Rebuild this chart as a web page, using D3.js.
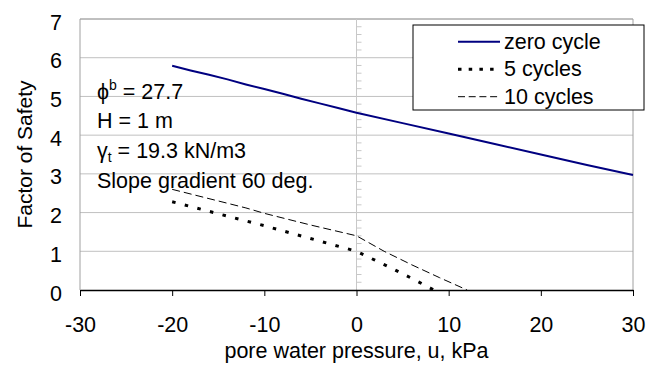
<!DOCTYPE html>
<html>
<head>
<meta charset="utf-8">
<script src="https://cdn.jsdelivr.net/npm/d3@7"></script>
<style>
  body { margin: 0; background: #fff; }
  svg text { font-family: "Liberation Sans", Arial, sans-serif; }
</style>
</head>
<body>
<div id="chart-area"></div>
<script>
// data
var zeroU  = [-20, -18, -16, -14, -12, -10, -8, -6, -4, -2, 0, 5, 10, 15, 20, 25, 30];
var zeroFS = [5.79, 5.67, 5.56, 5.44, 5.31, 5.19, 5.07, 4.94, 4.82, 4.70, 4.58, 4.31, 4.04, 3.77, 3.50, 3.23, 2.97];
var fiveU  = [-20, -15, -10, -5, 0, 2, 4, 6, 8, 8.4];
var fiveFS = [2.28, 1.97, 1.66, 1.33, 1.00, 0.77, 0.54, 0.30, 0.05, 0];
var tenU   = [-20, -15, -12, -10, -5, 0, 3, 6, 9, 12];
var tenFS  = [2.60, 2.30, 2.12, 1.98, 1.68, 1.40, 1.00, 0.65, 0.32, 0];

var xTicks = [-30, -20, -10, 0, 10, 20, 30];
var yTicks = [0, 1, 2, 3, 4, 5, 6, 7];
var legendNames = ["zero cycle", "5 cycles", "10 cycles"];

var margin = { left: 80, right: 25, top: 19, bottom: 75 };
var width = 658 - margin.left - margin.right;
var height = 365 - margin.top - margin.bottom;
var fs = "21.5px";

var svg = d3.select("#chart-area")
    .append("svg")
    .attr("width", 658)
    .attr("height", 365);

var g = svg.append("g")
    .attr("transform", "translate(" + margin.left + "," + margin.top + ")");

var x = d3.scaleLinear().domain([-30, 30]).range([0, width]);
var y = d3.scaleLinear().domain([0, 7]).range([height, 0]);

// gridlines
g.selectAll(".hgrid")
    .data(yTicks.slice(1))
    .enter().append("line")
    .attr("x1", 0).attr("x2", width)
    .attr("y1", function (d) { return y(d) })
    .attr("y2", function (d) { return y(d) })
    .attr("stroke", "#c0c0c0");

// frame (left, top, right)
g.append("path")
    .attr("d", "M0," + height + "V0H" + width + "V" + height)
    .attr("fill", "none")
    .attr("stroke", "#a0a0a0");

// vertical line at u = 0 with minor ticks
g.append("line")
    .attr("x1", x(0)).attr("x2", x(0))
    .attr("y1", 0).attr("y2", height)
    .attr("stroke", "#c8c8c8");

var minor = d3.range(1, 35).map(function (i) { return i * 0.2 })
    .filter(function (d) { return Math.abs(d - Math.round(d)) > 0.01 });
g.selectAll(".minor")
    .data(minor)
    .enter().append("line")
    .attr("x1", x(0)).attr("x2", x(0) + 5)
    .attr("y1", function (d) { return y(d) })
    .attr("y2", function (d) { return y(d) })
    .attr("stroke", "#c8c8c8");

// x axis
var xAxisCall = d3.axisBottom(x)
    .tickValues(xTicks)
    .tickFormat(function (d) { return String(d) })
    .tickSizeInner(6)
    .tickSizeOuter(0)
    .tickPadding(21);
var xAxis = g.append("g")
    .attr("transform", "translate(0," + height + ")")
    .call(xAxisCall);
xAxis.select(".domain").attr("stroke", "#000").attr("stroke-width", 1.5);
xAxis.selectAll("line").attr("stroke", "#000");
xAxis.selectAll("text")
    .attr("font-size", fs)
    .attr("fill", "#000");

// y axis labels
var yAxisCall = d3.axisLeft(y)
    .tickValues(yTicks)
    .tickFormat(function (d) { return String(d) })
    .tickSize(0)
    .tickPadding(18);
var yAxis = g.append("g").call(yAxisCall);
yAxis.select(".domain").remove();
yAxis.selectAll("text")
    .attr("font-size", fs)
    .attr("dy", "0.47em")
    .attr("fill", "#000");
svg.selectAll("g").attr("font-family", null);

// axis titles
svg.append("text")
    .attr("x", margin.left + x(0))
    .attr("y", 358)
    .attr("text-anchor", "middle")
    .attr("font-size", fs)
    .text("pore water pressure, u, kPa");

svg.append("text")
    .attr("transform", "translate(32," + (margin.top + height / 2) + ") rotate(-90)")
    .attr("text-anchor", "middle")
    .attr("font-size", "21px")
    .text("Factor of Safety");

// series lines
var line = d3.line()
    .x(function (d) { return x(d[0]) })
    .y(function (d) { return y(d[1]) });

var series = [
    { name: legendNames[0], pts: d3.zip(zeroU, zeroFS), color: "#000080", w: 2, dash: null, ldash: null },
    { name: legendNames[1], pts: d3.zip(fiveU, fiveFS), color: "#000", w: 3, dash: "3.5,9.5", ldash: "3.5,7.2" },
    { name: legendNames[2], pts: d3.zip(tenU, tenFS), color: "#000", w: 1, dash: "8,4", ldash: "7,3.7" }
];

series.forEach(function (s) {
    g.append("path")
        .datum(s.pts)
        .attr("d", line)
        .attr("fill", "none")
        .attr("stroke", s.color)
        .attr("stroke-width", s.w)
        .attr("stroke-dasharray", s.dash);
});

// annotation
var note = svg.append("g").attr("font-size", fs);
var t1 = note.append("text").attr("x", 97).attr("y", 99);
t1.append("tspan").text("\u03d5");
t1.append("tspan").attr("dy", -9).attr("font-size", "14px").text("b");
t1.append("tspan").attr("dy", 9).text(" = 27.7");
note.append("text").attr("x", 97).attr("y", 128).text("H = 1 m");
var t3 = note.append("text").attr("x", 97).attr("y", 158);
t3.append("tspan").text("\u03b3");
t3.append("tspan").attr("dy", 4).attr("font-size", "14px").text("t");
t3.append("tspan").attr("dy", -4).text(" = 19.3 kN/m3");
note.append("text").attr("x", 97).attr("y", 188).text("Slope gradient 60 deg.");

// legend
var legend = svg.append("g").attr("transform", "translate(413,25)");
legend.append("rect")
    .attr("width", 231).attr("height", 85)
    .attr("fill", "#fff")
    .attr("stroke", "#000");

series.forEach(function (s, i) {
    var row = legend.append("g")
        .attr("transform", "translate(0," + (16.7 + i * 27.5) + ")");
    row.append("line")
        .attr("x1", 45).attr("x2", 87)
        .attr("stroke", s.color)
        .attr("stroke-width", s.w)
        .attr("stroke-dasharray", s.ldash);
    row.append("text")
        .attr("x", 91)
        .attr("y", 7)
        .attr("font-size", fs)
        .text(s.name);
});
</script>
</body>
</html>
